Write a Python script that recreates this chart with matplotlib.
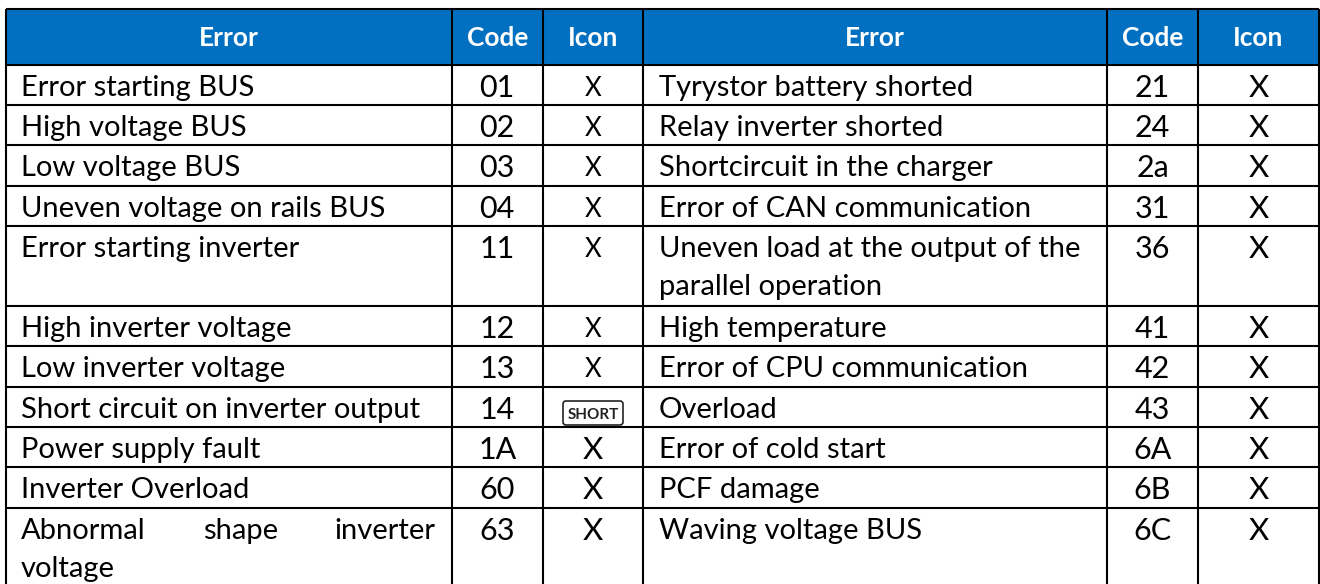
import matplotlib
matplotlib.use("Agg")
import matplotlib.pyplot as plt
from matplotlib.patches import Rectangle, FancyBboxPatch

plt.rcParams['font.family'] = ['Lato', 'DejaVu Sans']

headers = ["Error", "Code", "Icon", "Error", "Code", "Icon"]
errors_left = ["Error starting BUS", "High voltage BUS", "Low voltage BUS", "Uneven voltage on rails BUS",
               "Error starting inverter", "High inverter voltage", "Low inverter voltage",
               "Short circuit on inverter output", "Power supply fault", "Inverter Overload",
               "Abnormal shape inverter\nvoltage"]
codes_left = ["01", "02", "03", "04", "11", "12", "13", "14", "1A", "60", "63"]
icons_left = ["X", "X", "X", "X", "X", "X", "X", "SHORT", "X", "X", "X"]
errors_right = ["Tyrystor battery shorted", "Relay inverter shorted", "Shortcircuit in the charger",
                "Error of CAN communication", "Uneven load at the output of the\nparallel operation",
                "High temperature", "Error of CPU communication", "Overload", "Error of cold start",
                "PCF damage", "Waving voltage BUS"]
codes_right = ["21", "24", "2a", "31", "36", "41", "42", "43", "6A", "6B", "6C"]
icons_right = ["X"] * 11

W, H = 1320, 584
fig = plt.figure(figsize=(W / 100, H / 100), dpi=100, facecolor="white")
ax = fig.add_axes([0, 0, 1, 1])
ax.set_xlim(0, W)
ax.set_ylim(H, 0)
ax.axis("off")

col_x = [6, 451.5, 543, 643, 1107, 1198, 1319]
row_y = [9, 65, 105, 145, 186, 226, 306, 346, 387, 427, 467, 508, 590]
BLUE = "#0170C1"
LW = 1.5
ax.add_patch(Rectangle((col_x[0], row_y[0]), col_x[-1] - col_x[0], row_y[1] - row_y[0], fc=BLUE, ec="none"))
for x in col_x:
    ax.plot([x, x], [row_y[0], H + 2], color="black", lw=LW, solid_capstyle="butt")
for y in row_y:
    ax.plot([col_x[0], col_x[-1]], [y, y], color="black", lw=LW, solid_capstyle="butt")

TXT = 21
for i, h in enumerate(headers):
    ax.text((col_x[i] + col_x[i + 1]) / 2, 46, h, color="white", fontsize=18.9, fontweight="bold",
            ha="center", va="baseline")

LEAD = 38.5
def row_text(x, r, s):
    y = row_y[r + 1] + 31
    for j, line in enumerate(s.split("\n")):
        if line.startswith("Abnormal"):
            for w, wx in zip(line.split(), [21, 203, 334]):
                ax.text(wx, y, w, fontsize=TXT, color="black", ha="left", va="baseline")
        else:
            ax.text(x, y + j * LEAD, line, fontsize=TXT, color="black", ha="left", va="baseline")

def icon(cx, r, s, big):
    top = row_y[r + 1]
    if s == "SHORT":
        ax.add_patch(FancyBboxPatch((cx - 30, top + 14), 60, 24, boxstyle="round,pad=0,rounding_size=3",
                                    fc="white", ec="#222222", lw=1.2))
        ax.text(cx, top + 32, s, fontsize=11, fontweight="bold", color="#222222", ha="center", va="baseline")
    else:
        ax.text(cx, top + (32 if big else 31), s, fontsize=22.5 if big else 18.5, color="black",
                ha="center", va="baseline")

for r in range(11):
    row_text(21, r, errors_left[r])
    row_text(659, r, errors_right[r])
    ax.text((col_x[1] + col_x[2]) / 2, row_y[r + 1] + 32, codes_left[r], fontsize=22, color="black", ha="center", va="baseline")
    ax.text((col_x[4] + col_x[5]) / 2, row_y[r + 1] + 32, codes_right[r], fontsize=22, color="black", ha="center", va="baseline")
    icon((col_x[2] + col_x[3]) / 2, r, icons_left[r], r >= 8)
    icon((col_x[5] + col_x[6]) / 2, r, icons_right[r], True)

fig.savefig("out.png", dpi=100, facecolor="white")
